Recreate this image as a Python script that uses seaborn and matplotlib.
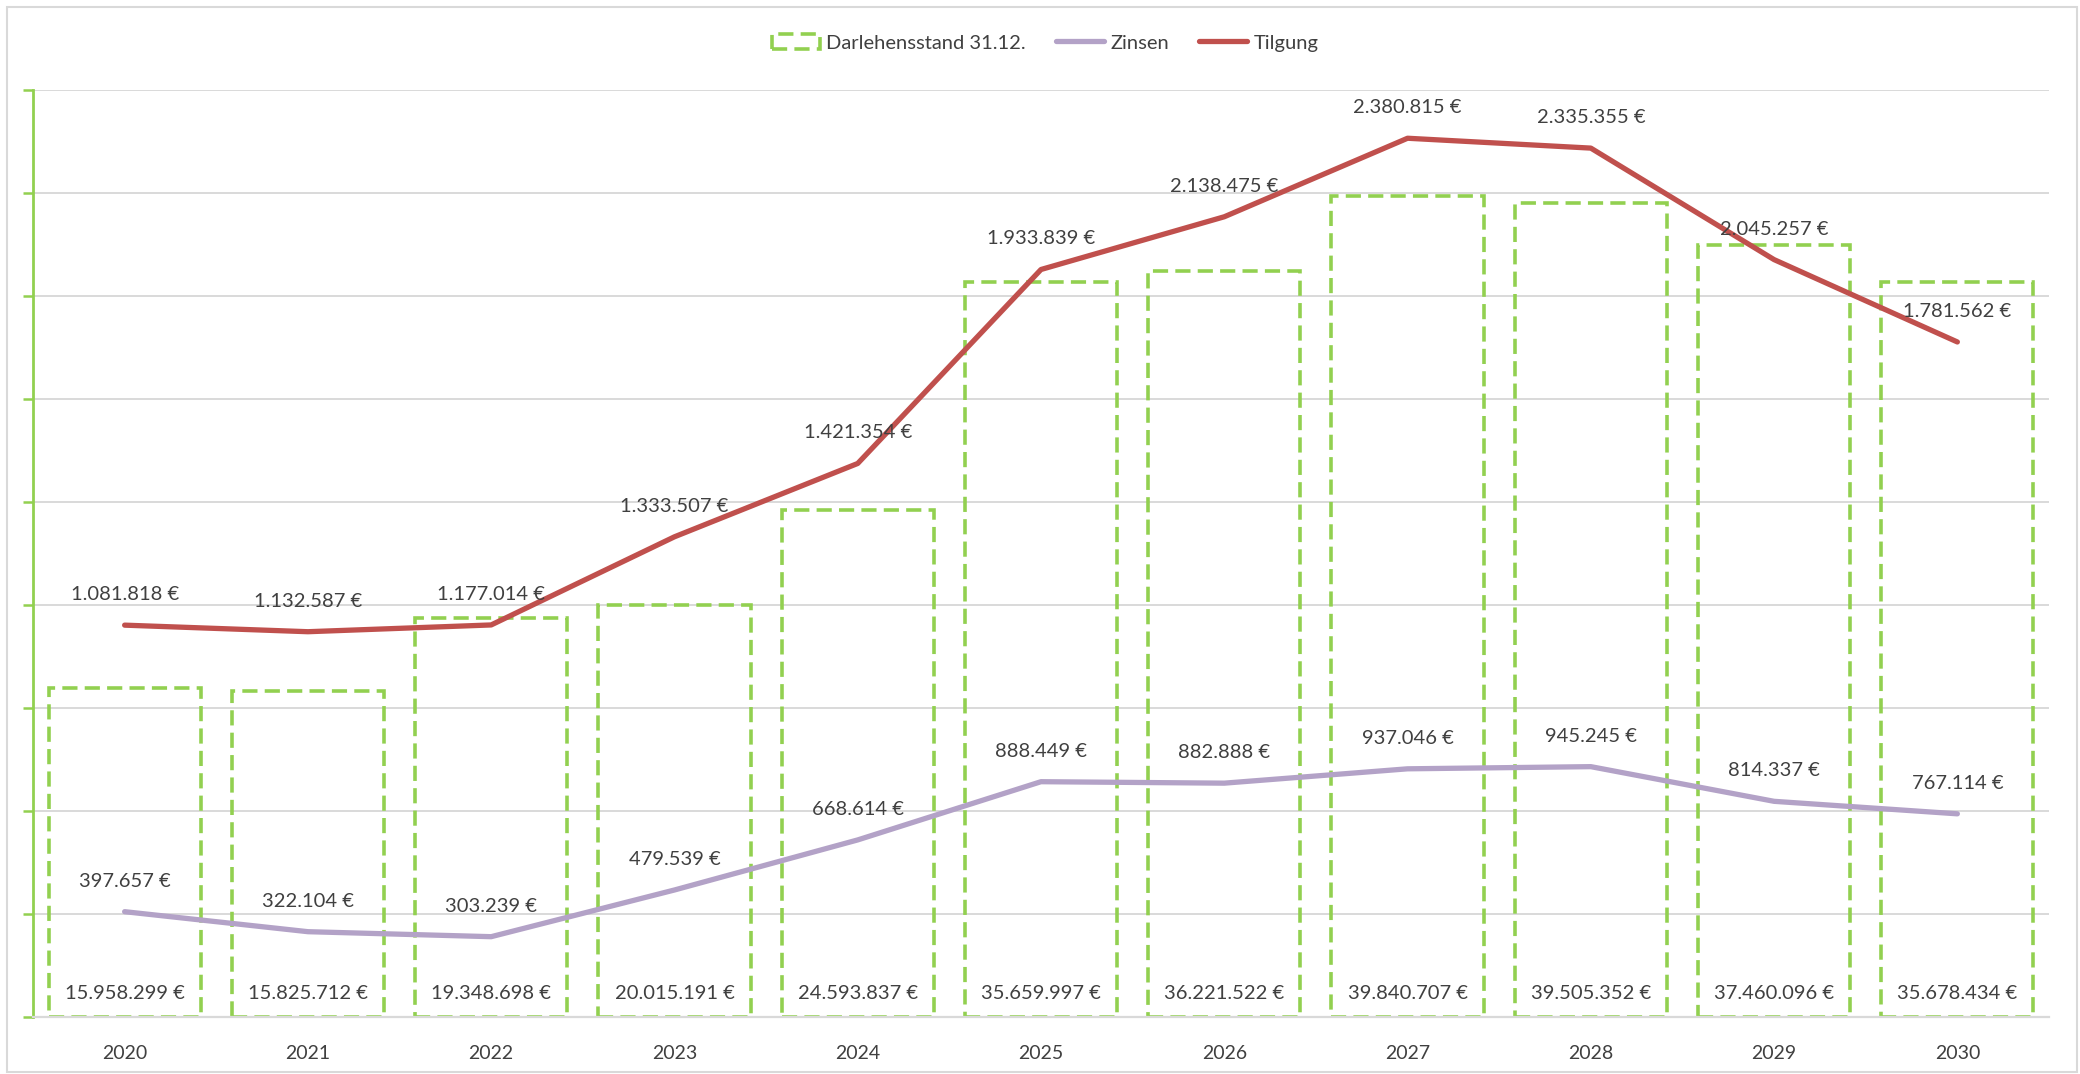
import numpy as np
import pandas as pd
import matplotlib
matplotlib.use("Agg")
import matplotlib.pyplot as plt
import seaborn as sns
from matplotlib.patches import Rectangle, Patch
from matplotlib.lines import Line2D

# data
years = ["2020", "2021", "2022", "2023", "2024", "2025", "2026", "2027", "2028", "2029", "2030"]
darlehensstand = [15958299, 15825712, 19348698, 20015191, 24593837, 35659997,
                  36221522, 39840707, 39505352, 37460096, 35678434]
zinsen = [397657, 322104, 303239, 479539, 668614, 888449, 882888, 937046, 945245, 814337, 767114]
tilgung = [1081818, 1132587, 1177014, 1333507, 1421354, 1933839, 2138475, 2380815, 2335355,
           2045257, 1781562]

GREEN = "#92D050"
PURPLE = "#B3A2C7"
RED = "#C0504D"
GRID = "#D9D9D9"
TEXT = "#404040"
DASH = (0, (4.2, 2.0))
BAR_LW = 2.6


def eur(v):
    return f"{v:,}".replace(",", ".") + " €"


sns.set_style("white")
plt.rcParams["font.family"] = ["Lato", "DejaVu Sans"]

df = pd.DataFrame({"Jahr": years, "Darlehensstand": darlehensstand,
                   "Zinsen": zinsen, "Tilgung": tilgung})
# Tilgung is drawn stacked on top of Zinsen (stacked line chart)
df["Tilgung_gestapelt"] = df["Zinsen"] + df["Tilgung"]
df["pos"] = np.arange(len(df))

fig = plt.figure(figsize=(20.8, 10.74), dpi=100)
ax = fig.add_axes([33 / 2080, 1 - 1017 / 1074, (2049 - 33) / 2080, (1017 - 90) / 1074])

# bars: dashed green outline, no fill
sns.barplot(data=df, x="Jahr", y="Darlehensstand", ax=ax, color="white", fill=False,
            width=0.83, linewidth=BAR_LW, linestyle=DASH, edgecolor=GREEN,
            errorbar=None, zorder=2)
for p in ax.patches:
    p.set_edgecolor(GREEN)
    p.set_facecolor("none")
    p.set_linestyle(DASH)
    p.set_linewidth(BAR_LW)

ax.set_ylim(0, 45e6)
ax.set_xlim(-0.5, len(years) - 0.5)
ax.set_yticks(np.arange(0, 45e6 + 1, 5e6))
ax.yaxis.grid(True, color=GRID, linewidth=1.4, zorder=0)
ax.set_axisbelow(True)
ax.tick_params(axis="y", length=7, width=1.8, color=GREEN, labelleft=False, direction="out")
ax.set_xticks(np.arange(len(years)))
ax.set_xticklabels(years)
ax.set_xticks(np.arange(len(years) + 1) - 0.5, minor=True)
ax.tick_params(axis="x", which="major", length=0, labelsize=14, labelcolor=TEXT, pad=20)
ax.tick_params(axis="x", which="minor", length=7, width=1.4, color=GRID, direction="out")
ax.set_xlabel("")
ax.set_ylabel("")
for s in ["top", "right"]:
    ax.spines[s].set_visible(False)
ax.spines["left"].set_color(GREEN)
ax.spines["left"].set_linewidth(2)
ax.spines["bottom"].set_color(GRID)
ax.spines["bottom"].set_linewidth(1.6)

for i, v in enumerate(darlehensstand):
    ax.annotate(eur(v), (i, 0), xytext=(0, 17), textcoords="offset points",
                ha="center", va="center", fontsize=14.5, color=TEXT)

# lines on a hidden secondary axis
ax2 = ax.twinx()
sns.lineplot(data=df, x="pos", y="Zinsen", ax=ax2, color=PURPLE, linewidth=3.8,
             solid_capstyle="round")
sns.lineplot(data=df, x="pos", y="Tilgung_gestapelt", ax=ax2, color=RED, linewidth=3.8,
             solid_capstyle="round")
ax2.set_ylim(0, 3.5e6)
ax2.set_xlim(-0.5, len(years) - 0.5)
ax2.set_yticks([])
ax2.set_ylabel("")
ax2.set_xlabel("")
for s in ax2.spines.values():
    s.set_visible(False)

for i in range(len(years)):
    ax2.annotate(eur(zinsen[i]), (i, df["Zinsen"][i]), xytext=(0, 22), textcoords="offset points",
                 ha="center", va="center", fontsize=14.5, color=TEXT)
    ax2.annotate(eur(tilgung[i]), (i, df["Tilgung_gestapelt"][i]), xytext=(0, 22),
                 textcoords="offset points", ha="center", va="center", fontsize=14.5, color=TEXT)

handles = [
    Patch(facecolor="none", edgecolor=GREEN, linewidth=BAR_LW, linestyle=DASH),
    Line2D([], [], color=PURPLE, linewidth=3.8),
    Line2D([], [], color=RED, linewidth=3.8),
]
fig.legend(handles, ["Darlehensstand 31.12.", "Zinsen", "Tilgung"], loc="center",
           bbox_to_anchor=(1045 / 2080, 1 - 43 / 1074), ncol=3, frameon=False,
           fontsize=14.5, handlelength=2.4, handletextpad=0.3, columnspacing=1.5,
           labelcolor=TEXT)

# outer chart border
fig.patches.append(Rectangle((7 / 2080, 2 / 1074), 2070 / 2080, 1065 / 1074,
                             transform=fig.transFigure, fill=False, edgecolor=GRID,
                             linewidth=1.5))

fig.savefig("out.png", dpi=100)
